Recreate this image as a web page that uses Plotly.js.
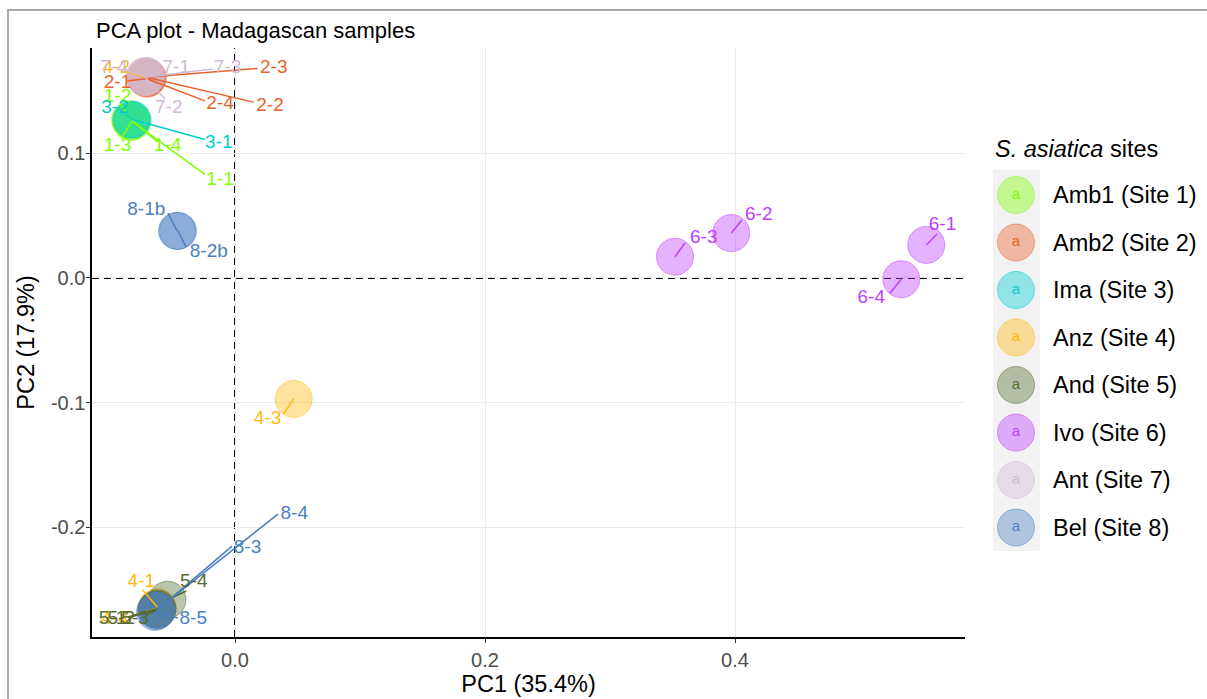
<!DOCTYPE html>
<html>
<head>
<meta charset="utf-8">
<script src="https://cdn.plot.ly/plotly-3.0.1.min.js"></script>
<style>
  html, body { margin: 0; padding: 0; background: #ffffff; }
  #chart { position: absolute; left: 0; top: 0; width: 1207px; height: 699px; }
  .frame-top { position: absolute; left: 7px; top: 9px; width: 1200px; height: 2px; background: #A9A9A9; }
  .frame-left { position: absolute; left: 7px; top: 9px; width: 2px; height: 690px; background: #A9A9A9; }
</style>
</head>
<body>
<div id="chart"></div>
<div class="frame-top"></div>
<div class="frame-left"></div>
<script>
// Sampling sites (legend order) and their colours
const siteNames = ['Amb1 (Site 1)', 'Amb2 (Site 2)', 'Ima (Site 3)', 'Anz (Site 4)',
                   'And (Site 5)', 'Ivo (Site 6)', 'Ant (Site 7)', 'Bel (Site 8)'];
const siteColors = ['#7FFF00', '#E8622A', '#00CED1', '#FFB90F',
                    '#556B2F', '#BF3EFF', '#D2B9D6', '#4A7FC1'];

// Axis ticks
const xTickVals = [0, 0.2, 0.4];
const xTickText = ['0.0', '0.2', '0.4'];
const yTickVals = [-0.2, -0.1, 0, 0.1];
const yTickText = ['-0.2', '-0.1', '0.0', '0.1'];

// Samples: id, site number, PC scores
const sampleIds  = ['1-1','1-2','1-3','1-4',
                    '2-1','2-2','2-3','2-4',
                    '3-1','3-2',
                    '4-1','4-2','4-3','4-4',
                    '5-1','5-2','5-3','5-4',
                    '6-1','6-2','6-3','6-4',
                    '7-1','7-2','7-3','7-4',
                    '8-1b','8-2b','8-3','8-4','8-5'];
const sampleSite = [1,1,1,1, 2,2,2,2, 3,3, 4,4,4,4, 5,5,5,5, 6,6,6,6, 7,7,7,7, 8,8,8,8,8];
const pc1 = [-0.083,-0.084,-0.083,-0.082,
             -0.070,-0.071,-0.070,-0.071,
             -0.082,-0.083,
             -0.062,-0.072, 0.047,-0.063,
             -0.062,-0.063,-0.062,-0.054,
              0.553, 0.397, 0.352, 0.533,
             -0.071,-0.072,-0.071,-0.072,
             -0.0464,-0.0456,-0.063,-0.0624,-0.064];
const pc2 = [ 0.126, 0.127, 0.125, 0.126,
              0.160, 0.161, 0.161, 0.160,
              0.127, 0.127,
             -0.264, 0.161,-0.097,-0.265,
             -0.265,-0.266,-0.266,-0.258,
              0.0265, 0.036, 0.017,-0.001,
              0.162, 0.161, 0.161, 0.162,
              0.0377, 0.0377,-0.267,-0.2662,-0.2678];

// Repelled label placement (label centre and end of the leader segment)
const labelX = [-0.012,-0.094,-0.094,-0.054,
                -0.094, 0.028, 0.031,-0.012,
                -0.013,-0.096,
                -0.075,-0.095, 0.026,-0.096,
                -0.098,-0.091,-0.080,-0.033,
                 0.566, 0.419, 0.375, 0.509,
                -0.047,-0.053,-0.006,-0.097,
                -0.071,-0.021, 0.010, 0.0474,-0.0334];
const labelY = [ 0.078, 0.145, 0.106, 0.106,
                 0.156, 0.138, 0.168, 0.139,
                 0.108, 0.136,
                -0.244, 0.168,-0.113,-0.2735,
                -0.2735,-0.2735,-0.2735,-0.244,
                 0.0425, 0.0505, 0.032,-0.016,
                 0.168, 0.136, 0.168, 0.168,
                 0.054, 0.021,-0.2165,-0.1893,-0.2735];
const segX = [-0.024,-0.092,-0.091,-0.062,
              -0.086, 0.015, 0.018,-0.024,
              -0.024,-0.089,
              -0.074,-0.088, 0.039,-0.086,
              -0.086,-0.084,-0.072,-0.039,
               0.5616, 0.4056, 0.360, 0.524,
              -0.058,-0.056,-0.018,-0.090,
              -0.0536,-0.0392,-0.0024, 0.0344,-0.0456];
const segY = [ 0.083, 0.140, 0.112, 0.109,
               0.158, 0.141, 0.168, 0.142,
               0.111, 0.133,
              -0.250, 0.166,-0.109,-0.272,
              -0.272,-0.272,-0.271,-0.251,
               0.0353, 0.0465, 0.028,-0.012,
               0.166, 0.1435, 0.1676, 0.167,
               0.0521, 0.0249,-0.215,-0.1893,-0.2727];

const FONT = 'Liberation Sans, Arial, Helvetica, sans-serif';
const X_RANGE = [-0.1144, 0.584];
const Y_RANGE = [-0.2879, 0.1844];

function rgba(hex, a) {
  const n = parseInt(hex.slice(1), 16);
  return 'rgba(' + ((n >> 16) & 255) + ',' + ((n >> 8) & 255) + ',' + (n & 255) + ',' + a + ')';
}

const pointTraces = [], segTraces = [], labelTraces = [];
siteNames.forEach((name, s) => {
  const idx = [];
  sampleSite.forEach((v, i) => { if (v === s + 1) idx.push(i); });
  const col = siteColors[s];
  pointTraces.push({
    type: 'scatter', mode: 'markers', name: name, showlegend: false,
    x: idx.map(i => pc1[i]), y: idx.map(i => pc2[i]),
    text: idx.map(i => sampleIds[i]),
    marker: { size: 37, color: rgba(col, 0.4), line: { width: 1, color: rgba(col, 0.5) } },
    hoverinfo: 'text', cliponaxis: false
  });
  const sx = [], sy = [];
  idx.forEach(i => { sx.push(pc1[i], segX[i], null); sy.push(pc2[i], segY[i], null); });
  segTraces.push({
    type: 'scatter', mode: 'lines', showlegend: false, hoverinfo: 'skip',
    x: sx, y: sy, line: { color: col, width: 1.5 }
  });
  labelTraces.push({
    type: 'scatter', mode: 'text', showlegend: false, hoverinfo: 'skip',
    x: idx.map(i => labelX[i]), y: idx.map(i => labelY[i]),
    text: idx.map(i => sampleIds[i]), textposition: 'middle center',
    textfont: { family: FONT, size: 19, color: col }, cliponaxis: false
  });
});

// Legend drawn on its own pixel-scaled axes
const legRowY = siteNames.map((_, i) => 195 + i * 47.5);
const legendKeys = {
  type: 'scatter', mode: 'markers+text', xaxis: 'x2', yaxis: 'y2', showlegend: false, hoverinfo: 'skip',
  x: siteNames.map(() => 1016), y: legRowY,
  text: siteNames.map(() => 'a'), textposition: 'middle center',
  textfont: { family: FONT, size: 15, color: siteColors },
  marker: { size: 37, color: siteColors.map(c => rgba(c, 0.4)),
            line: { width: 1, color: siteColors.map(c => rgba(c, 0.5)) } },
  cliponaxis: false
};

const annotations = siteNames.map((name, i) => ({
  xref: 'x2', yref: 'y2', x: 1051, y: legRowY[i], text: name, showarrow: false,
  xanchor: 'left', yanchor: 'middle', font: { family: FONT, size: 23.5, color: '#000000' }
}));
annotations.push({
  xref: 'x2', yref: 'y2', x: 993, y: 149, text: '<i>S. asiatica</i> sites', showarrow: false,
  xanchor: 'left', yanchor: 'middle', font: { family: FONT, size: 23.5, color: '#000000' }
});

const layout = {
  width: 1207, height: 699,
  paper_bgcolor: '#ffffff', plot_bgcolor: '#ffffff',
  margin: { l: 92, r: 10, t: 48, b: 62 },
  font: { family: FONT, color: '#000000' },
  title: { text: 'PCA plot - Madagascan samples', x: 4 / 1105, xref: 'paper', xanchor: 'left',
           y: 1 - 30 / 699, yanchor: 'middle', font: { family: FONT, size: 22, color: '#000000' } },
  showlegend: false,
  xaxis: {
    domain: [0, 873 / 1105], range: X_RANGE, tickmode: 'array', tickvals: xTickVals, ticktext: xTickText,
    showgrid: true, gridcolor: '#EBEBEB', gridwidth: 1, zeroline: false,
    showline: true, linecolor: '#000000', linewidth: 1.6,
    ticks: 'outside', ticklen: 4, tickcolor: '#333333', tickwidth: 1,
    tickfont: { family: FONT, size: 20, color: '#4D4D4D' },
    title: { text: 'PC1 (35.4%)', font: { family: FONT, size: 23.5, color: '#000000' }, standoff: 3 }
  },
  yaxis: {
    range: Y_RANGE, tickmode: 'array', tickvals: yTickVals, ticktext: yTickText,
    showgrid: true, gridcolor: '#EBEBEB', gridwidth: 1, zeroline: false,
    showline: true, linecolor: '#000000', linewidth: 1.6,
    ticks: 'outside', ticklen: 4, tickcolor: '#333333', tickwidth: 1,
    ticklabelstandoff: -3,
    tickfont: { family: FONT, size: 20, color: '#4D4D4D' },
    title: { text: 'PC2 (17.9%)', font: { family: FONT, size: 23.5, color: '#000000' }, standoff: 10 }
  },
  xaxis2: { domain: [(985 - 92) / 1105, 1], range: [985, 1197], anchor: 'y2', visible: false, fixedrange: true },
  yaxis2: { domain: [0, 1], range: [637, 48], anchor: 'x2', visible: false, fixedrange: true },
  shapes: [
    { type: 'line', xref: 'x', yref: 'y', x0: 0, x1: 0, y0: Y_RANGE[0], y1: Y_RANGE[1],
      line: { color: '#000000', width: 1.9, dash: '7px,5px' }, layer: 'below' },
    { type: 'line', xref: 'x', yref: 'y', x0: X_RANGE[0], x1: X_RANGE[1], y0: 0, y1: 0,
      line: { color: '#000000', width: 1.9, dash: '7px,5px' }, layer: 'below' },
    { type: 'rect', xref: 'x2', yref: 'y2', x0: 993, x1: 1040, y0: 170, y1: 551,
      fillcolor: '#F2F2F2', line: { width: 0 }, layer: 'below' }
  ],
  annotations: annotations
};

Plotly.newPlot('chart', pointTraces.concat(segTraces, labelTraces, [legendKeys]), layout,
               { displayModeBar: false, staticPlot: true });
</script>
</body>
</html>
